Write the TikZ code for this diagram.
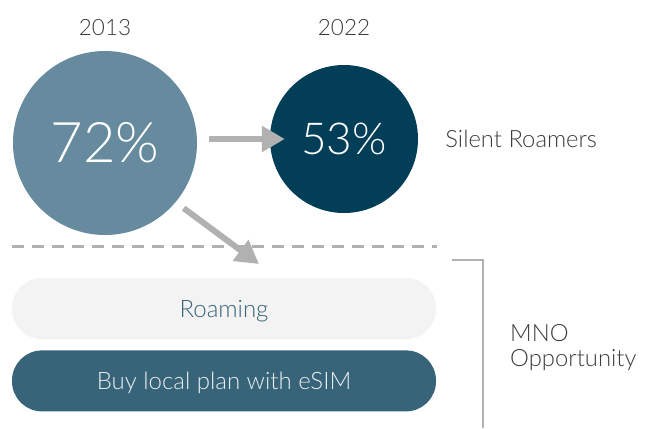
\documentclass[tikz,border=0pt]{standalone}
\usepackage{fontspec}
\setmainfont{Lato}[UprightFont=* Light]
\usetikzlibrary{positioning,arrows.meta}

\definecolor{slate}{HTML}{668A9E}
\definecolor{navy}{HTML}{033E58}
\definecolor{pillteal}{HTML}{376479}
\definecolor{mist}{HTML}{F3F3F3}
\definecolor{inkgray}{HTML}{3C3C3C}
\definecolor{arrowgray}{HTML}{B1B1B1}

\begin{document}
\begin{tikzpicture}[x=1pt,y=-1pt,>={Triangle[length=23pt,width=25pt]},
  bubble/.style={circle,inner sep=0pt,text=white},
  year/.style={font=\fontsize{22.5}{26}\selectfont,text=inkgray,inner sep=0pt},
  pill/.style={rounded corners=30pt,minimum width=424pt,minimum height=61pt,
    inner sep=0pt,text height=20pt,text depth=3pt,font=\fontsize{24}{28}\selectfont},
  note/.style={font=\fontsize{23.8}{25}\selectfont,text=inkgray,inner sep=0pt,align=left},
  flow/.style={->,draw=arrowgray,fill=arrowgray,line width=6pt},
  cut/.style={draw=arrowgray,line width=3pt,dash pattern=on 12pt off 8pt},
  bracket/.style={draw=arrowgray,line width=2pt}]

  \useasboundingbox (0,0) rectangle (652,428);

  % the two shares
  \node[bubble,fill=slate,minimum size=184pt,font=\fontsize{56}{60}\selectfont] (big) at (105,143) {72\%};
  \node[bubble,fill=navy,minimum size=148pt,font=\fontsize{44}{48}\selectfont] (small) at (344,139) {53\%};
  \node[year] (y13) [above=15pt of big] {2013};
  \node[year] (y22) at (small |- y13) {2022};
  \node[note] (silent) [right=27pt of small] {Silent Roamers};

  % separator
  \coordinate (cutL) at (12,246);
  \coordinate (cutR) at (437,246);
  \draw[cut] (cutL) -- (cutR);

  % options below the line
  \node[pill,fill=mist,text=pillteal] (roam) at (224,308.5) {Roaming};
  \node[pill,fill=pillteal,text=white!90!pillteal] (local) [below=11pt of roam] {Buy local plan with eSIM};

  \coordinate (split) at (259,264);
  \draw[flow,shorten <=12pt] (big.east |- small.west) -- ([xshift=15pt]small.west);
  \draw[flow,shorten <=10pt] (big.-40) -- (split);

  % bracket and its label
  \coordinate (brkA) at (452,260);
  \coordinate (brkB) at (483,260);
  \coordinate (brkC) at (483,428);
  \draw[bracket] (brkA) -- (brkB) -- (brkC);
  \node[note,anchor=west] (mno) at (510,348) {MNO\\Opportunity};

\end{tikzpicture}
\end{document}
